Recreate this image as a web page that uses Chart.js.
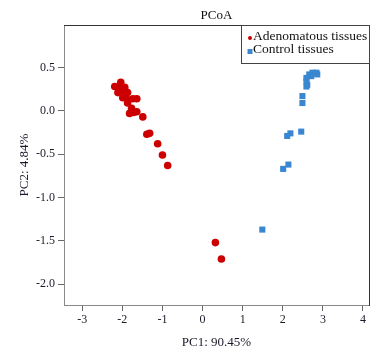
<!DOCTYPE html>
<html>
<head>
<meta charset="utf-8">
<script src="https://cdn.jsdelivr.net/npm/chart.js@4.4.1/dist/chart.umd.min.js"></script>
<style>
  html, body { margin: 0; padding: 0; background: #fff; }
  #wrap { width: 386px; height: 351px; }
</style>
</head>
<body>
<div id="wrap"><canvas id="pcoa"></canvas></div>
<script>
// PCoA coordinates
var adenoPC1 = [-2.04, -2.19, -2.06, -1.94, -2.11, -1.97, -1.87, -1.99, -1.87, -1.74, -1.64,
                -1.87, -1.77, -1.64, -1.82, -1.72, -1.49, -1.39, -1.32, -1.12, -1.00, -0.87, 0.32, 0.47];
var adenoPC2 = [0.33, 0.28, 0.28, 0.27, 0.21, 0.23, 0.21, 0.15, 0.13, 0.14, 0.14,
                0.09, 0.03, -0.01, -0.03, -0.02, -0.07, -0.27, -0.26, -0.38, -0.51, -0.63, -1.52, -1.71];

var controlPC1 = [2.84, 2.74, 2.66, 2.86, 2.59, 2.71, 2.59, 2.61, 2.59, 2.49, 2.49,
                  2.46, 2.19, 2.11, 2.14, 2.01, 1.49];
var controlPC2 = [0.44, 0.44, 0.42, 0.42, 0.38, 0.40, 0.34, 0.30, 0.28, 0.17, 0.09,
                  -0.24, -0.26, -0.29, -0.62, -0.67, -1.37];

var xTicks = [-3, -2, -1, 0, 1, 2, 3, 4];
var yTicks = [-2.0, -1.5, -1.0, -0.5, 0.0, 0.5];

var toPoints = (xs, ys) => xs.map((x, i) => ({x: x, y: ys[i]}));

const serif = '"Liberation Serif", "Times New Roman", serif';

// bordered legend in the top-right corner of the plot
const boxLegend = {
    id: 'boxLegend',
    afterDraw(chart) {
        const ctx = chart.ctx;
        const a = chart.chartArea;
        const w = 128, h = 38;
        const x0 = a.right - w, y0 = a.top;
        ctx.save();
        ctx.strokeStyle = '#444';
        ctx.lineWidth = 1;
        ctx.strokeRect(Math.round(x0) + 0.5, Math.round(y0) + 0.5, w, h);
        ctx.font = '13.5px ' + serif;
        ctx.textBaseline = 'alphabetic';
        ctx.fillStyle = '#111';
        chart.data.datasets.forEach((ds, i) => {
            const cy = y0 + 13 + i * 13.5;
            const mx = x0 + 9;
            ctx.fillStyle = ds.backgroundColor;
            ctx.beginPath();
            if (ds.pointStyle === 'circle') {
                ctx.arc(mx, cy, 2, 0, Math.PI * 2);
            } else {
                ctx.rect(mx - 2.5, cy - 2.5, 5, 5);
            }
            ctx.fill();
            ctx.fillStyle = '#111';
            ctx.fillText(ds.label, x0 + 12, cy + 1.5);
        });
        ctx.restore();
    }
};

new Chart(document.getElementById('pcoa'), {
    type: 'scatter',
    data: {
        datasets: [
            {
                label: 'Adenomatous tissues',
                data: toPoints(adenoPC1, adenoPC2),
                backgroundColor: '#cc0000',
                borderWidth: 0,
                pointStyle: 'circle',
                pointRadius: 3.8,
                pointHoverRadius: 3.8
            },
            {
                label: 'Control tissues',
                data: toPoints(controlPC1, controlPC2),
                backgroundColor: '#3a87d1',
                borderWidth: 0,
                pointStyle: 'rect',
                pointRadius: 4.3,
                pointHoverRadius: 4.3
            }
        ]
    },
    options: {
        responsive: true,
        maintainAspectRatio: false,
        animation: false,
        layout: { padding: 0 },
        plugins: {
            legend: { display: false },
            title: { display: false },
            tooltip: { enabled: false }
        },
        scales: {
            x: {
                type: 'linear',
                position: 'bottom',
                min: -3.455,
                max: 4.15,
                afterBuildTicks: s => { s.ticks = xTicks.map(v => ({value: v})); },
                afterFit: s => { s.height = 46; },
                ticks: {
                    font: { family: serif, size: 12 },
                    color: '#1a1a2a',
                    padding: 2,
                    maxRotation: 0
                },
                grid: { drawOnChartArea: false, tickLength: 6, color: '#666' },
                border: { color: '#8a8a8a', width: 1 },
                title: {
                    display: true,
                    text: 'PC1: 90.45%',
                    font: { family: serif, size: 13 },
                    color: '#1a1a2a',
                    padding: { top: 0, bottom: 1 }
                }
            },
            y: {
                type: 'linear',
                position: 'left',
                min: -2.24,
                max: 0.99,
                afterBuildTicks: s => { s.ticks = yTicks.map(v => ({value: v})); },
                afterFit: s => { s.width = 64; },
                ticks: {
                    font: { family: serif, size: 12 },
                    color: '#1a1a2a',
                    padding: 3,
                    callback: v => v.toFixed(1)
                },
                grid: { drawOnChartArea: false, tickLength: 6, color: '#666' },
                border: { color: '#8a8a8a', width: 1 },
                title: {
                    display: true,
                    text: 'PC2: 4.84%',
                    font: { family: serif, size: 13 },
                    color: '#1a1a2a',
                    padding: { top: 17, bottom: 0 }
                }
            },
            xTop: {
                type: 'linear',
                position: 'top',
                min: -3.455,
                max: 4.15,
                afterFit: s => { s.height = 25; },
                ticks: { display: false },
                grid: { drawOnChartArea: false, drawTicks: false },
                border: { color: '#333', width: 1 },
                title: {
                    display: true,
                    text: 'PCoA',
                    font: { family: serif, size: 13 },
                    color: '#111',
                    padding: { top: 8, bottom: 0 }
                }
            },
            yRight: {
                type: 'linear',
                position: 'right',
                min: -2.24,
                max: 0.99,
                afterFit: s => { s.width = 17; },
                ticks: { display: false },
                grid: { drawOnChartArea: false, drawTicks: false },
                border: { color: '#333', width: 1 }
            }
        }
    },
    plugins: [boxLegend]
});
</script>
</body>
</html>
